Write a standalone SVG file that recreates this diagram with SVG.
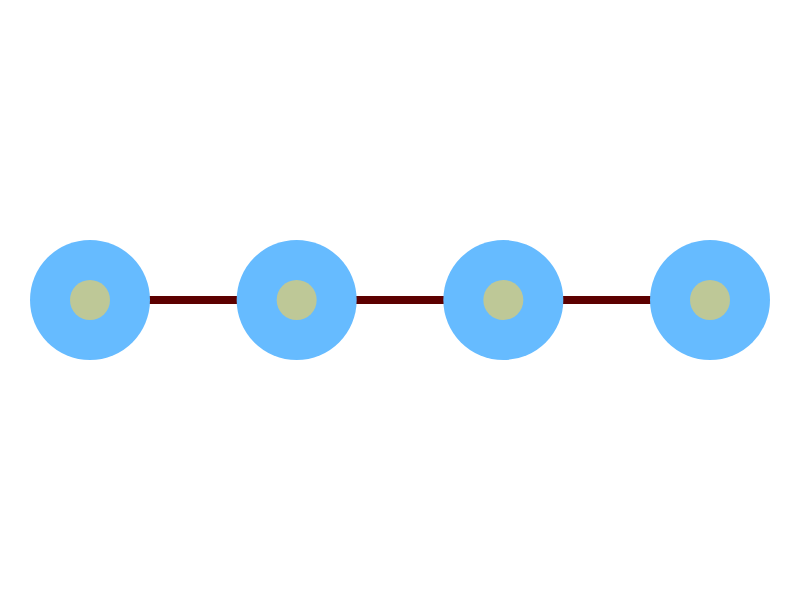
<svg xmlns="http://www.w3.org/2000/svg" width="800" height="600" viewBox="0 0 800 600">
<style>
.edge{stroke:#5c0000;stroke-width:8;fill:none}
.outer{fill:#66bbff}
.inner{fill:#bec897}
</style>
<rect width="800" height="600" fill="#ffffff"/>
<g id="connectors">
<line class="edge" x1="90" y1="300" x2="296.67" y2="300"/>
<line class="edge" x1="296.67" y1="300" x2="503.33" y2="300"/>
<line class="edge" x1="503.33" y1="300" x2="710" y2="300"/>
</g>
<g id="node1"><circle class="outer" cx="90" cy="300" r="60"/><circle class="inner" cx="90" cy="300" r="20"/></g>
<g id="node2"><circle class="outer" cx="296.67" cy="300" r="60"/><circle class="inner" cx="296.67" cy="300" r="20"/></g>
<g id="node3"><circle class="outer" cx="503.33" cy="300" r="60"/><circle class="inner" cx="503.33" cy="300" r="20"/></g>
<g id="node4"><circle class="outer" cx="710" cy="300" r="60"/><circle class="inner" cx="710" cy="300" r="20"/></g>
</svg>
